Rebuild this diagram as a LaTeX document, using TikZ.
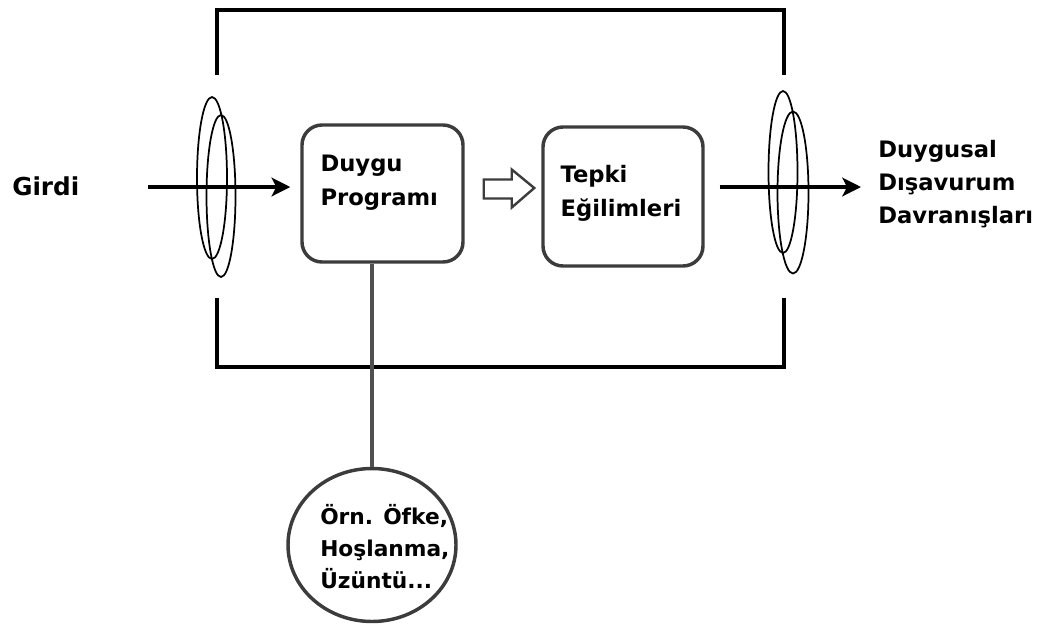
\documentclass[tikz,border=0pt]{standalone}
\usepackage{fontspec}
\setmainfont{DejaVu Sans}
\usetikzlibrary{arrows.meta,calc,shapes.geometric}
\definecolor{boxgray}{HTML}{3C3C3C}
\definecolor{linegray}{HTML}{505050}
\tikzset{
  rbox/.style={draw=boxgray, line width=2.6pt, rounded corners=15pt, minimum width=161*0.75pt, minimum height=137*0.75pt, inner sep=0pt},
  bracket/.style={draw=black, line width=3.6pt},
  ring/.style={draw=black, line width=1.3pt},
  flow/.style={draw=black, line width=2.5pt, -{Stealth[length=14pt,width=14pt,inset=3.5pt]}},
  lbl/.style={font=\fontsize{17}{25.5}\selectfont\bfseries, align=left, inner sep=0pt, anchor=base west},
  bigl/.style={font=\fontsize{18.5}{22}\selectfont\bfseries, inner sep=0pt, anchor=base west},
}
\begin{document}
\begin{tikzpicture}[x=0.75pt,y=-0.75pt]
\useasboundingbox (0,0) rectangle (1046,626);
% brackets
\draw[bracket] (217,75) -- (217,10) -- (784,10) -- (784,75);
\draw[bracket] (217,298) -- (217,367) -- (784,367) -- (784,298);
% boxes
\node[rbox] (duygu) at (382.5,193.5) {};
\node[rbox, minimum width=160*0.75pt, minimum height=139*0.75pt] (tepki) at (623,196.5) {};
\node[lbl] (duygut) at ($(duygu.north west)+(20,82)$) {Duygu\\Programı};
\node[lbl] (tepkit) at ($(tepki.north west)+(19,91)$) {Tepki\\Eğilimleri};
% circle
\node[draw=boxgray, line width=2.6pt, ellipse, minimum width=168*0.75pt, minimum height=153*0.75pt, inner sep=0pt] (ornek) at (372,545) {};
\node[lbl, font=\fontsize{16.3}{23.7}\selectfont\bfseries] (ornekt) at (320,588) {Örn. Öfke,\\Hoşlanma,\\Üzüntü...};
\draw[draw=linegray, line width=2.8pt] (ornek.north) -- (ornek.north |- duygu.south);
% labels
\node[bigl] (girdi) at (12,195) {Girdi};
\node[lbl, font=\fontsize{17}{24.75}\selectfont\bfseries] (cikti) at (878,223) {Duygusal\\Dışavurum\\Davranışları};
% rings
\draw[ring] (212,178) ellipse [x radius=15, y radius=81];
\draw[ring] (221,196) ellipse [x radius=14.5, y radius=81];
\draw[ring] (783,172) ellipse [x radius=14.5, y radius=81];
\draw[ring] (793,192.5) ellipse [x radius=15.5, y radius=81];
% arrows
\coordinate (inStart) at (148,187);
\coordinate (outEnd) at (861,187);
\draw[flow, shorten >=10*0.75pt] (inStart) -- (inStart -| duygu.west);
\draw[flow, shorten <=15*0.75pt] (tepki.east |- outEnd) -- (outEnd);
% hollow arrow
\draw[draw=boxgray, line width=1.8pt, fill=white]
  ($(duygu.east)+(19,-14)$) coordinate (ha)
  -- ++(28,0) -- ++(0,-10) -- ($(tepki.west)+(-7,-8.5)$) -- ($(ha)+(28,28)$) -- ++(0,-9) -- ++(-28,0) -- cycle;
\end{tikzpicture}
\end{document}
